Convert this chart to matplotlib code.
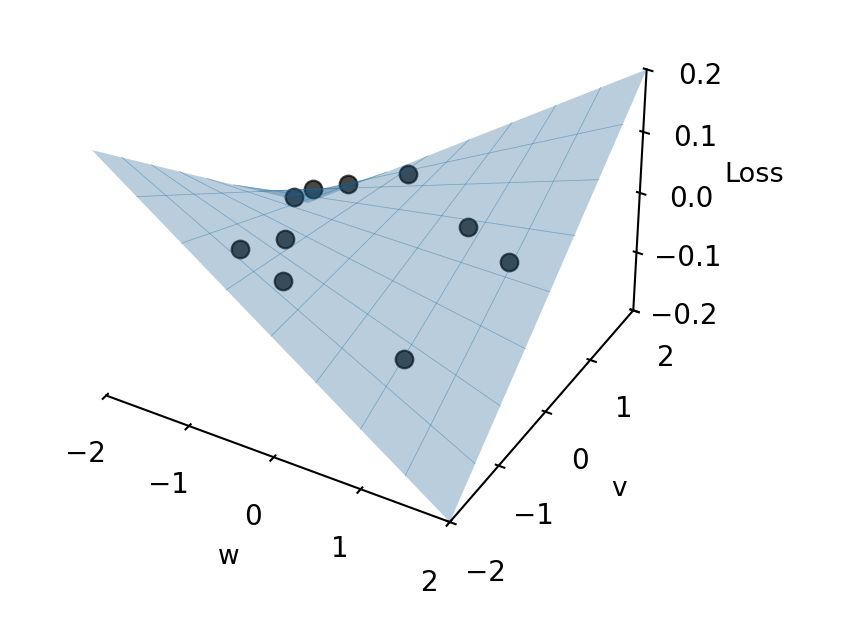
import numpy as np
import matplotlib
matplotlib.use('Agg')
import matplotlib.pyplot as plt

w_grid = [-2.0, -1.5, -1.0, -0.5, 0.0, 0.5, 1.0, 1.5, 2.0]
v_grid = [-2.0, -1.5, -1.0, -0.5, 0.0, 0.5, 1.0, 1.5, 2.0]
# loss read at grid crossings, rows are v, columns are w
loss_grid = [
    [0.2000, 0.1500, 0.1000, 0.0500, 0.0, -0.0500, -0.1000, -0.1500, -0.2000],
    [0.1500, 0.1125, 0.0750, 0.0375, 0.0, -0.0375, -0.0750, -0.1125, -0.1500],
    [0.1000, 0.0750, 0.0500, 0.0250, 0.0, -0.0250, -0.0500, -0.0750, -0.1000],
    [0.0500, 0.0375, 0.0250, 0.0125, 0.0, -0.0125, -0.0250, -0.0375, -0.0500],
    [0.0, 0.0, 0.0, 0.0, 0.0, 0.0, 0.0, 0.0, 0.0],
    [-0.0500, -0.0375, -0.0250, -0.0125, 0.0, 0.0125, 0.0250, 0.0375, 0.0500],
    [-0.1000, -0.0750, -0.0500, -0.0250, 0.0, 0.0250, 0.0500, 0.0750, 0.1000],
    [-0.1500, -0.1125, -0.0750, -0.0375, 0.0, 0.0375, 0.0750, 0.1125, 0.1500],
    [-0.2000, -0.1500, -0.1000, -0.0500, 0.0, 0.0500, 0.1000, 0.1500, 0.2000],
]
point_w = [-1.232, -1.412, -1.202, -0.452, 0.828, 1.448, 0.998, -0.292, -0.632, -0.772]
point_v = [0.471, 1.151, 1.521, 1.491, 0.451, 0.181, -1.149, -1.299, -0.699, -1.309]
point_loss = [-0.034, -0.082, -0.093, -0.040, 0.013, 0.007, -0.061, 0.015, 0.018, 0.046]
w_ticks = [-2, -1, 0, 1, 2]
v_ticks = [-2, -1, 0, 1, 2]
loss_ticks = [-0.2, -0.1, 0.0, 0.1, 0.2]

plt.rcParams['axes.linewidth'] = 1.5
plt.rcParams['xtick.major.width'] = 1.5
plt.rcParams['ytick.major.width'] = 1.5

W, V = np.meshgrid(w_grid, v_grid)
Z = np.array(loss_grid)

fig = plt.figure(figsize=(8.51, 6.21), dpi=100)
ax = fig.add_axes([-0.0649, 0.1153, 0.99, 0.99], projection='3d', computed_zorder=False)
ax.view_init(elev=35, azim=-60)
ax.scatter(point_w, point_v, point_loss, s=160, c='k', alpha=0.72, linewidths=1.6,
           edgecolors='k', depthshade=False, zorder=1)
ax.plot_surface(W, V, Z, color='#125587', alpha=0.29, linewidth=0, antialiased=True, shade=False, zorder=2)
for i in range(1, 8):
    ax.plot(W[i], V[i], Z[i], color='#1f6a9f', alpha=0.45, linewidth=0.55, zorder=3)
    ax.plot(W[:, i], V[:, i], Z[:, i], color='#1f6a9f', alpha=0.45, linewidth=0.55, zorder=3)

ax.set_xlim(-2, 2)
ax.set_ylim(-2, 2)
ax.set_zlim(-0.2, 0.2)
ax.set_xticks(w_ticks)
ax.set_yticks(v_ticks)
ax.set_zticks(loss_ticks)
ax.set_xlabel('w', fontsize=19, labelpad=29)
ax.set_ylabel('v', fontsize=19, labelpad=29)
ax.set_zlabel('Loss', fontsize=19.5, labelpad=30)
ax.tick_params(labelsize=20, pad=15)
ax.grid(False)
for a in (ax.xaxis, ax.yaxis, ax.zaxis):
    a.pane.set_visible(False)

fig.savefig('out.png', dpi=100)
